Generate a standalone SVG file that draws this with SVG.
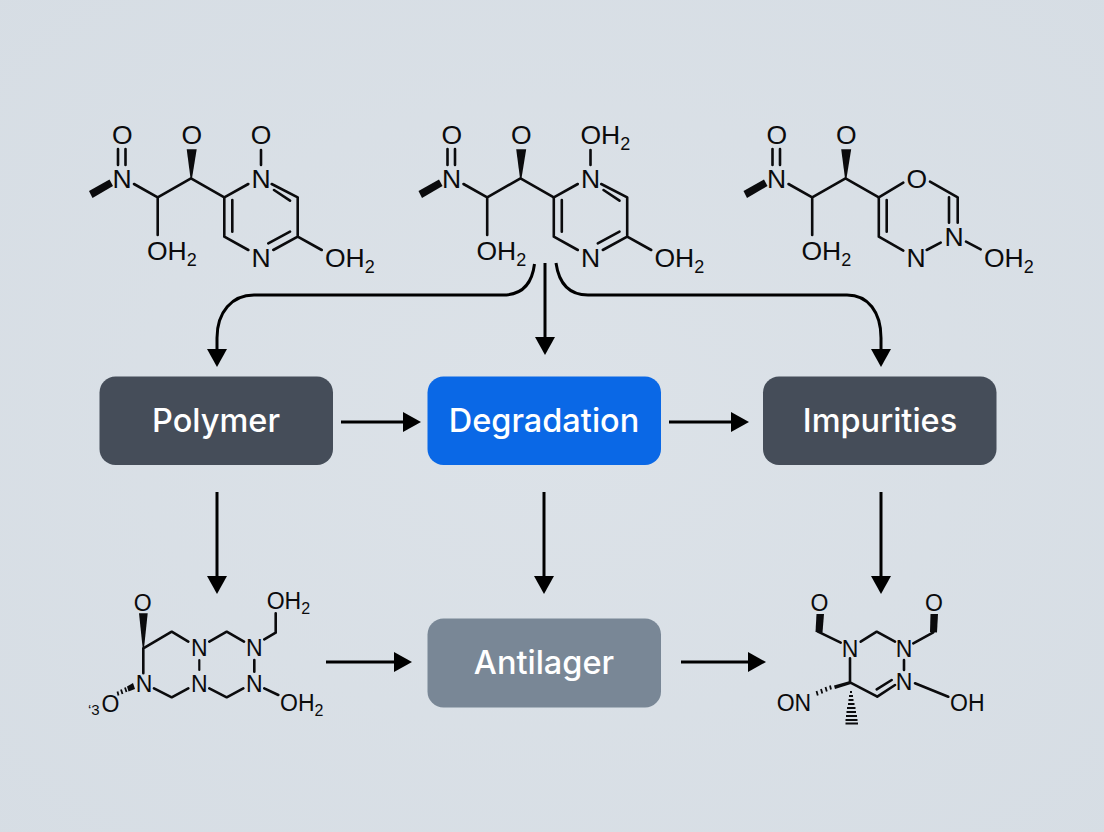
<svg xmlns="http://www.w3.org/2000/svg" width="1104" height="832" viewBox="0 0 1104 832">
<style>
.b{fill:none;stroke:#0b0b0d;stroke-width:2.6;stroke-linecap:round;stroke-linejoin:round}
.h{fill:none;stroke:#0b0b0d;stroke-width:1.8}
.w{fill:#0b0b0d}
.a{font-family:"Liberation Sans",Arial,sans-serif;font-size:26.500px;fill:#0b0b0d}
.m{text-anchor:middle}
.s{font-size:18px}
.c{font-family:"Liberation Sans",Arial,sans-serif;font-size:23px;fill:#0b0b0d}
.ss{font-size:16px}
.n{font-family:Inter,"Liberation Sans",sans-serif;font-size:32.500px;font-weight:500;fill:#fff;text-anchor:middle}
.k{fill:none;stroke:#000;stroke-width:3}
</style>
<defs>
<radialGradient id="bg" cx="50%" cy="50%" r="75%"><stop offset="0" stop-color="#dce2e8"/><stop offset="1" stop-color="#d6dde4"/></radialGradient>
<marker id="ah" markerUnits="userSpaceOnUse" markerWidth="19" markerHeight="22" refX="0" refY="10.5" orient="auto"><path d="M0 .5L18 10.5L0 20.5z" fill="#000"/></marker>
<g id="chain">
<text class="a m" x="122.3" y="143.5">O</text>
<text class="a m" x="122" y="187.5">N</text>
<path class="b" d="M118 149V165M125.5 149V165M134 184L157.7 197.3L191 178.3L224.3 197.3M157.7 197.3V235"/>
<path class="w" d="M109.5 179.5L113 186L92.500 198L89 191z"/>
<path class="w" d="M186.700 149.300H196.700L192 178.300H190.500z"/>
<text class="a m" x="191.700" y="143.500">O</text>
<text class="a" x="147" y="259.500">OH<tspan class="s" dy="6">2</tspan></text>
</g>
<g id="ring">
<text class="a m" x="261" y="187.500">N</text>
<text class="a m" x="261" y="266.500">N</text>
<path class="b" d="M224.300 197.300L248.300 184M271.700 184L297.700 197.300V236.700L273.300 250M274 190L290 200.700M290 231.700L268.300 243.300M248.300 250L224.300 236.700V197.300M232.300 200V231.700M297.700 236.700L321.700 250M261 150V165"/>
<text class="a" x="325" y="266.500">OH<tspan class="s" dy="6">2</tspan></text>
</g>
</defs>
<rect width="1104" height="832" fill="url(#bg)"/>
<g id="connectors">
<path class="k" marker-end="url(#ah)" d="M534.500 264C532 284 522 295 503 295H254C232 295 217 312 217 338V349"/>
<path class="k" marker-end="url(#ah)" d="M545 263V337"/>
<path class="k" marker-end="url(#ah)" d="M556 263C559 284 569 295 588 295H847C868 295 881 312 881 338V349"/>
<path class="k" marker-end="url(#ah)" d="M341 422H403"/>
<path class="k" marker-end="url(#ah)" d="M669 422H731"/>
<path class="k" marker-end="url(#ah)" d="M217 492V576"/>
<path class="k" marker-end="url(#ah)" d="M544 492V576"/>
<path class="k" marker-end="url(#ah)" d="M881 492V576"/>
<path class="k" marker-end="url(#ah)" d="M326 662H394"/>
<path class="k" marker-end="url(#ah)" d="M681 662H748"/>
</g>
<g id="mol-top-left">
<use href="#chain"/><use href="#ring"/>
<text class="a m" x="261" y="143.500">O</text>
</g>
<g id="mol-top-center" transform="translate(329.500 0)">
<use href="#chain"/><use href="#ring"/>
<text class="a" x="251" y="143.500">OH<tspan class="s" dy="6">2</tspan></text>
</g>
<g id="mol-top-right">
<use href="#chain" x="654.500"/>
<text class="a m" x="916.700" y="187.500">O</text>
<text class="a m" x="954" y="245.500">N</text>
<text class="a m" x="916" y="266.500">N</text>
<path class="b" d="M878.800 197.300L903.300 182.700M930 181.700L957.700 197.300V222.700M949 197.300V222.700M940.700 242.700L926.700 250M903.300 250.700L878.800 236.700V197.300M886.700 200V231.700M966 241.700L980.700 249.300"/>
<text class="a" x="984" y="266.500">OH<tspan class="s" dy="6">2</tspan></text>
</g>
<g id="polymer"><rect x="99.500" y="376.500" width="233.500" height="88.500" rx="16" fill="#454d59"/><text class="n" x="216" y="431.500">Polymer</text></g>
<g id="degradation"><rect x="427.500" y="376.500" width="233.500" height="88.500" rx="16" fill="#0a68e6"/><text class="n" x="544" y="431.500">Degradation</text></g>
<g id="impurities"><rect x="763" y="376.500" width="233.500" height="88.500" rx="16" fill="#454d59"/><text class="n" x="880" y="431.500">Impurities</text></g>
<g id="antilager"><rect x="427.500" y="618.500" width="233.500" height="89" rx="16" fill="#798796"/><text class="n" x="544" y="673.500">Antilager</text></g>
<g id="mol-bottom-left">
<text class="c m" x="142.700" y="611">O</text>
<path class="w" d="M139 613.300H147.700L144 648.300H142.700z"/>
<path class="b" d="M143.300 648.300L171.700 631.700L188.300 641.700M209.300 641.700L226.700 631.700L244 641.700M264.300 639.300L275.700 632.700V613.300M254.300 660V671.700M243.300 688.300L226.700 697.300L209.300 688.300M188.300 688.300L171.700 697.300L154 688.300M143.300 648.300V673.300M264.300 688.300L278.300 695"/>
<path class="b" style="stroke-width:2.200" d="M199.300 660V670"/>
<text class="c m" x="199.300" y="656">N</text>
<text class="c m" x="254.300" y="656">N</text>
<text class="c m" x="199.300" y="691.500">N</text>
<text class="c m" x="254.300" y="691.500">N</text>
<text class="c m" x="144" y="691.500">N</text>
<text class="c" x="266.700" y="608.500">OH<tspan class="ss" dy="5">2</tspan></text>
<text class="c" x="280" y="710.500">OH<tspan class="ss" dy="5">2</tspan></text>
<text class="c" x="88" y="715" style="font-size:15px">‘3</text>
<text class="c m" x="110.500" y="712">O</text>
<path class="w" d="M133 683L135 689L128.500 691.500L127 686.500z"/>
<path class="h" d="M125 687.500L126.500 692M121 689.500L122.500 694M117.500 691.500L118.500 695.500"/>
</g>
<g id="mol-bottom-right">
<text class="c m" x="819.500" y="611">O</text>
<text class="c m" x="934" y="611">O</text>
<path class="w" d="M816.500 614H824L822.500 632.500L815.500 632z"/>
<path class="w" d="M930.500 614H938L937 632.500L930 632z"/>
<path class="b" d="M818 631.700L840.700 642.700M860.700 641.700L876.700 631.700L895 641.700M913.300 643.300L933.300 632.300M904 660V670M915 683.300L948.300 696.700M895 685L877.300 696.700M891.700 680L876.700 689.300M877.300 696.700L850 682.300M850 658.300V682.300"/>
<path class="w" d="M850 681L851 684L835 689L834 685.500z"/>
<text class="c m" x="850" y="656.500">N</text>
<text class="c m" x="904" y="656.500">N</text>
<text class="c m" x="904" y="689.500">N</text>
<text class="c" x="776.700" y="711">ON</text>
<text class="c" x="950" y="711">OH</text>
<path class="h" d="M830 685.500L831 689.500M825.500 687L826.800 691.500M821 689L822.300 693.500M816.500 691L817.800 695.500"/>
<path class="h" d="M850 692H852M849 696H853M848.500 700H853.500M848 704H854.500M847 708H855.500M846.500 712H856M846 716H857M845.500 720H857.500M845.500 723.500H858"/>
</g>
</svg>
